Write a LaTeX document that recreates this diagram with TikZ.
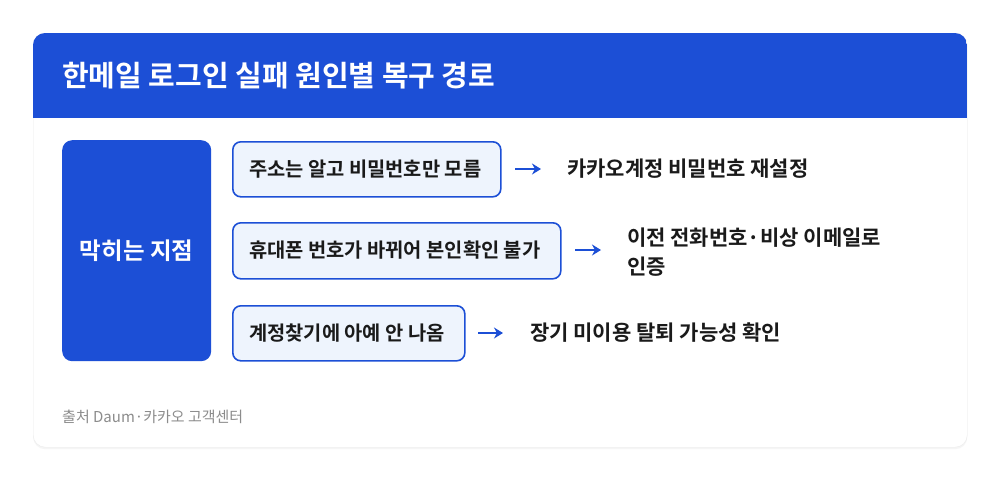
\documentclass[tikz,border=0pt]{standalone}
\usepackage{fontspec}
\setmainfont{Noto Sans CJK KR}
\newfontfamily\kb{Noto Sans CJK KR Bold}
\usetikzlibrary{arrows.meta,shadows}
\definecolor{mblue}{HTML}{1C4FD6}
\definecolor{lfill}{HTML}{EEF4FD}
\definecolor{txt}{HTML}{1A1A1A}
\begin{document}
\begin{tikzpicture}[x=1pt,y=-1pt,
  stepbox/.style={draw=mblue,line width=1.6pt,fill=lfill,rounded corners=8pt,anchor=north west,inner sep=0pt},
  steptxt/.style={anchor=west,inner sep=0pt,font=\kb\fontsize{19.8}{22}\selectfont,text=txt},
  res/.style={anchor=west,font=\kb\fontsize{21}{29}\selectfont,text=txt,align=left,inner sep=0pt},
  arr/.style={-{Stealth[length=9pt,width=11pt]},draw=mblue,line width=2.6pt}]
\useasboundingbox (0,0) rectangle (1000,480);
\fill[white] (0,0) rectangle (1000,480);
\node[draw=black!8,fill=white,rounded corners=12pt,minimum width=934pt,minimum height=414pt,anchor=north west,inner sep=0pt,drop shadow={opacity=0.08,shadow xshift=0pt,shadow yshift=-2pt}] (card) at (33,33) {};
\begin{scope}
\clip[rounded corners=12pt] (33,33) rectangle (967,447);
\fill[mblue] (33,33) rectangle (967,118);
\end{scope}
\node[anchor=west,text=white,font=\kb\fontsize{29}{34}\selectfont,inner sep=0pt] (title) at (62,76) {한메일 로그인 실패 원인별 복구 경로};
\node[fill=mblue,rounded corners=10pt,minimum width=149pt,minimum height=221pt,anchor=north west,inner sep=0pt] (left) at (62,140) {};
\node[text=white,font=\kb\fontsize{23.5}{28}\selectfont] (lt) at (left.center) {막히는 지점};
\node[stepbox,minimum width=268pt,minimum height=55pt] (s1) at (232,141) {};
\node[steptxt] (t1) at (249,169) {주소는 알고 비밀번호만 모름};
\node[stepbox,minimum width=328pt,minimum height=56pt] (s2) at (232,222) {};
\node[steptxt] (t2) at (249,250) {휴대폰 번호가 바뀌어 본인확인 불가};
\node[stepbox,minimum width=232pt,minimum height=55pt] (s3) at (232,305) {};
\node[steptxt] (t3) at (249,333) {계정찾기에 아예 안 나옴};
\coordinate (a1) at (515,169); \coordinate (b1) at (541,169);
\coordinate (a2) at (575,250); \coordinate (b2) at (601,250);
\coordinate (a3) at (478,333); \coordinate (b3) at (503,333);
\draw[arr] (a1) -- (b1);
\draw[arr] (a2) -- (b2);
\draw[arr] (a3) -- (b3);
\node[res] (r1) at (567,169) {카카오계정 비밀번호 재설정};
\node[res] (r2) at (627,252) {이전 전화번호·비상 이메일로\\인증};
\node[res] (r3) at (530,333) {장기 미이용 탈퇴 가능성 확인};
\node[anchor=west,inner sep=0pt,text=black!45,font=\fontsize{15}{17}\selectfont] (src) at (62,417) {출처 Daum·카카오 고객센터};
\end{tikzpicture}
\end{document}
